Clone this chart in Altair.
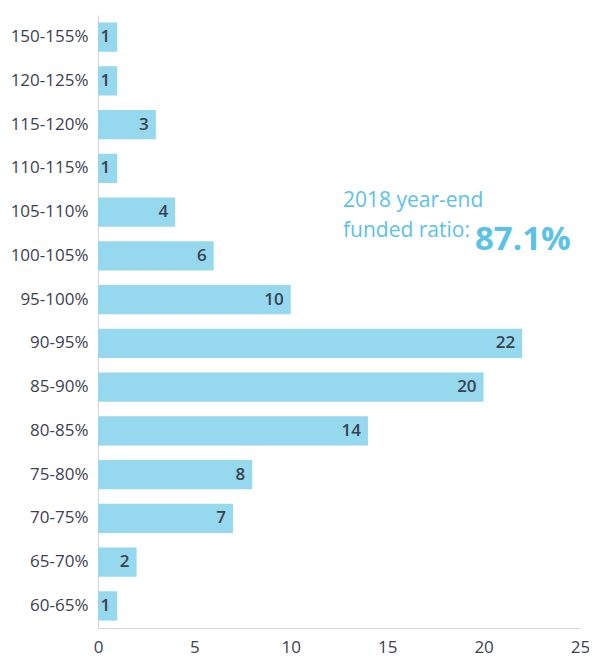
import altair as alt
import pandas as pd

categories = ["150-155%", "120-125%", "115-120%", "110-115%", "105-110%", "100-105%",
              "95-100%", "90-95%", "85-90%", "80-85%", "75-80%", "70-75%", "65-70%", "60-65%"]
counts = [1, 1, 3, 1, 4, 6, 10, 22, 20, 14, 8, 7, 2, 1]
x_ticks = [0, 5, 10, 15, 20, 25]

df = pd.DataFrame({"range": categories, "count": counts})

FONT = "Open Sans"
BAR = "#96d8ee"
TXT = "#3c4150"
ACC = "#5bc2e7"

x = alt.X("count:Q", scale=alt.Scale(domain=[0, 25], nice=False),
          axis=alt.Axis(values=x_ticks, title=None, grid=False, ticks=False,
                        domainColor="#d4d4d4", labelFontSize=17, labelColor=TXT,
                        labelPadding=11, labelFont=FONT, labelFontWeight="normal",
                        labelFlush=False))
y = alt.Y("range:N", sort=categories,
          scale=alt.Scale(paddingInner=0.33, paddingOuter=0.17),
          axis=alt.Axis(title=None, ticks=False, domainColor="#d4d4d4",
                        labelFontSize=17, labelColor=TXT, labelPadding=10,
                        labelFont=FONT, labelFontWeight="normal"))

base = alt.Chart(df)
bars = base.mark_bar(color=BAR).encode(x=x, y=y)
labels = base.mark_text(align="right", baseline="middle", dx=-7, fontSize=17,
                        fontWeight=600, color=TXT, font=FONT).encode(
    x="count:Q", y=alt.Y("range:N", sort=categories), text="count:Q")

ann_text = ["2018 year-end", "funded ratio:"]
ann_px = [245, 245]
ann_py = [192, 222]
big_text = ["87.1%"]

ann = pd.DataFrame({"t": ann_text, "px": ann_px, "py": ann_py})
big = pd.DataFrame({"t": big_text, "px": [377], "py": [235]})

ann1 = alt.Chart(ann).mark_text(align="left", baseline="alphabetic",
                                fontSize=21, color=ACC, font=FONT).encode(
    x=alt.X("px:Q", scale=None), y=alt.Y("py:Q", scale=None), text="t:N")
ann2 = alt.Chart(big).mark_text(align="left", baseline="alphabetic",
                                fontSize=33, fontWeight="bold", color=ACC,
                                font=FONT).encode(
    x=alt.X("px:Q", scale=None), y=alt.Y("py:Q", scale=None), text="t:N")

chart = (bars + labels + ann1 + ann2).properties(
    width=482, height=613,
    background="white",
    padding={"left": 90, "top": 7, "right": 9, "bottom": 28},
    autosize=alt.AutoSizeParams(type="none"),
).configure_view(strokeWidth=0)

chart.save("out.html", embed_options={"renderer": "svg", "actions": False})
